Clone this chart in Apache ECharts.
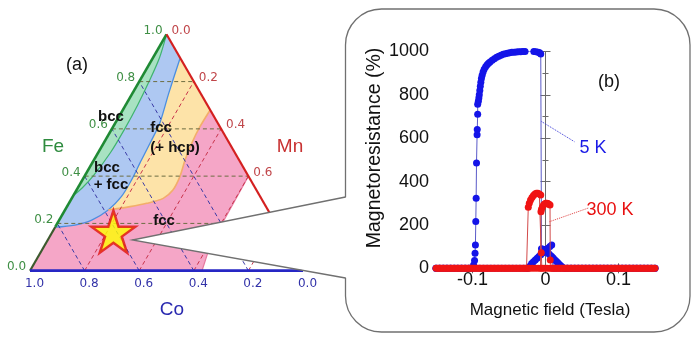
<!DOCTYPE html>
<html><head><meta charset="utf-8">
<script src="https://cdn.jsdelivr.net/npm/echarts@6/dist/echarts.min.js"></script>
<style>html,body{margin:0;padding:0;background:#fff}#c{width:700px;height:343px}</style>
</head><body><div id="c"></div>
<script>
// ===== (a) ternary diagram data: points are [Fe fraction, Mn fraction]; Co = 1 - Fe - Mn =====
const ternaryTicks = [0.2, 0.4, 0.6, 0.8];
const ternaryLabelValues = [0, 0.2, 0.4, 0.6, 0.8, 1.0];
const bccBoundary = [[1,0],[0.9,0.024],[0.8,0.036],[0.7,0.044],[0.6,0.047],[0.5,0.045],[0.4,0.031],[0.35,0.016],[0.32,0]];
const bccFccBoundary = [[0.90,0.10],[0.75,0.133],[0.625,0.163],[0.54,0.17],[0.455,0.175],[0.384,0.18],[0.313,0.178],[0.257,0.158],[0.214,0.119],[0.193,0.068],[0.184,0]];
const fccHcpBoundary = [[0.68,0.32],[0.609,0.318],[0.539,0.323],[0.468,0.334],[0.398,0.35],[0.341,0.353],[0.306,0.335],[0.285,0.285],[0.271,0.231],[0.257,0.158]];
const fccLimitBoundary = [[0.4,0.6],[0.2,0.604],[0.1,0.608],[0,0.63]];
const starComposition = [0.165, 0.223];

// ===== (b) magnetoresistance data: [field (T), MR (%)] =====
const mr5KDown = [
 [0.150,0],[0.145,0],[0.140,0],[0.135,0],[0.130,0],[0.125,0],[0.120,0],[0.115,0],[0.110,0],[0.105,0],[0.100,0],[0.095,0],[0.090,0],[0.085,0],[0.080,0],[0.075,0],[0.070,0],[0.065,0],[0.060,0],[0.055,0],[0.050,0],[0.045,0],[0.040,0],[0.035,0],[0.030,0],[0.026,0],
 [0.0225,7],[0.0205,13],[0.0185,20],[0.0165,27],[0.0145,34],[0.0125,40],[0.0105,47],[0.0085,54],[0.0065,60],[0.0045,67],[0.0025,74],[0.0005,80],[-0.0015,85],[-0.0035,88],[-0.0055,90],
 [-0.0065,988],[-0.008,994],[-0.010,997],[-0.013,999],[-0.016,1000],[-0.019,1001],[-0.022,1001],[-0.025,1001],[-0.028,1000],[-0.031,1000],[-0.034,999],[-0.037,999],[-0.040,998],[-0.043,997],[-0.046,996],[-0.049,994],[-0.052,992],[-0.055,990],[-0.058,987],[-0.061,983],[-0.064,978],[-0.067,973],[-0.070,967],[-0.073,960],[-0.076,952],[-0.078,946],[-0.080,939],[-0.082,930],[-0.084,918],[-0.0855,905],[-0.0868,890],[-0.0878,875],[-0.0886,858],[-0.0893,840],[-0.0900,820],[-0.0907,800],[-0.0913,785],[-0.0920,770],[-0.0929,757],
 [-0.0929,711],[-0.0935,640],[-0.0937,616],[-0.0945,486],[-0.0950,323],[-0.0955,216],[-0.0960,108],[-0.0965,69],[-0.0972,36],[-0.0985,15],
 [-0.101,0],[-0.105,0],[-0.110,0],[-0.115,0],[-0.120,0],[-0.125,0],[-0.130,0],[-0.135,0],[-0.140,0],[-0.145,0],[-0.150,0]
];
const mr5KUp = [
 [-0.150,0],[-0.145,0],[-0.140,0],[-0.135,0],[-0.130,0],[-0.125,0],[-0.120,0],[-0.115,0],[-0.110,0],[-0.105,0],[-0.100,0],[-0.095,0],[-0.090,0],[-0.085,0],[-0.080,0],[-0.075,0],[-0.070,0],[-0.065,0],[-0.060,0],[-0.055,0],[-0.050,0],[-0.045,0],[-0.040,0],[-0.035,0],[-0.030,0],[-0.026,0],
 [-0.024,0],[-0.0215,10],[-0.019,22],[-0.0165,30],[-0.014,38],[-0.0115,46],[-0.009,54],[-0.0065,62],[-0.004,70],[-0.0015,78],[0.001,86],[0.0035,93],[0.006,100],[0.0085,108],
 [0.011,0],[0.015,0],[0.020,0],[0.025,0],[0.030,0],[0.035,0],[0.040,0],[0.045,0],[0.050,0],[0.055,0],[0.060,0],[0.065,0],[0.070,0],[0.075,0],[0.080,0],[0.085,0],[0.090,0],[0.095,0],[0.100,0],[0.105,0],[0.110,0],[0.115,0],[0.120,0],[0.125,0],[0.130,0],[0.135,0],[0.140,0],[0.145,0],[0.150,0]
];
const mr300KUp = [
 [-0.150,0],[-0.146,0],[-0.142,0],[-0.138,0],[-0.134,0],[-0.130,0],[-0.126,0],[-0.122,0],[-0.118,0],[-0.114,0],[-0.110,0],[-0.106,0],[-0.102,0],[-0.098,0],[-0.094,0],[-0.090,0],[-0.086,0],[-0.082,0],[-0.078,0],[-0.074,0],[-0.070,0],[-0.066,0],[-0.062,0],[-0.058,0],[-0.054,0],[-0.050,0],[-0.046,0],[-0.042,0],[-0.038,0],[-0.034,0],[-0.030,0],[-0.026,0],
 [-0.0236,0],[-0.0236,282],[-0.0222,300],[-0.0205,315],[-0.0185,326],[-0.0165,336],[-0.0145,343],[-0.0125,346],[-0.0105,346],[-0.0085,343],[-0.0065,338],
 [-0.0058,72],[-0.0050,0],[-0.002,0],[0.002,0],[0.006,0],[0.010,0],[0.014,0],[0.018,0],[0.022,0],[0.026,0],[0.030,0],[0.034,0],[0.038,0],[0.042,0],[0.046,0],[0.050,0],[0.054,0],[0.058,0],[0.062,0],[0.066,0],[0.070,0],[0.074,0],[0.078,0],[0.082,0],[0.086,0],[0.090,0],[0.094,0],[0.098,0],[0.102,0],[0.106,0],[0.110,0],[0.114,0],[0.118,0],[0.122,0],[0.126,0],[0.130,0],[0.134,0],[0.138,0],[0.142,0],[0.146,0],[0.150,0]
];
const mr300KDown = [
 [0.148,0],[0.144,0],[0.140,0],[0.136,0],[0.132,0],[0.128,0],[0.124,0],[0.120,0],[0.116,0],[0.112,0],[0.108,0],[0.104,0],[0.100,0],[0.096,0],[0.092,0],[0.088,0],[0.084,0],[0.080,0],[0.076,0],[0.072,0],[0.068,0],[0.064,0],[0.060,0],[0.056,0],[0.052,0],[0.048,0],[0.044,0],[0.040,0],[0.036,0],[0.032,0],[0.028,0],[0.024,0],[0.020,0],[0.016,0],[0.012,0],[0.008,0],
 [0.0065,38],[0.0062,292],[0.0048,296],[0.0033,299],[0.0018,300],[0.0003,300],[-0.0012,297],[-0.0027,292],[-0.0042,283],[-0.0055,272],[-0.0062,261],
 [-0.0068,0],[-0.010,0],[-0.014,0],[-0.018,0],[-0.022,0],[-0.028,0],[-0.032,0],[-0.036,0],[-0.040,0],[-0.044,0],[-0.048,0],[-0.052,0],[-0.056,0],[-0.060,0],[-0.064,0],[-0.068,0],[-0.072,0],[-0.076,0],[-0.080,0],[-0.084,0],[-0.088,0],[-0.092,0],[-0.096,0],[-0.100,0],[-0.104,0],[-0.108,0],[-0.112,0],[-0.116,0],[-0.120,0],[-0.124,0],[-0.128,0],[-0.132,0],[-0.136,0],[-0.140,0],[-0.144,0],[-0.148,0]
];
const xTickValues = [-0.1, 0, 0.1];
const leader5K = [[-0.0055, 677], [0.0396, 584]];
const leader300K = [[0.0055, 215], [0.0587, 278]];

// ===== helpers =====
const H = Math.sqrt(3) / 2;
function tern(p) { return [p[1] + p[0] / 2, p[0] * H]; } // [Fe, Mn] -> cartesian
const rev = a => a.slice().reverse();

const pinkPoly = [[0,0]].concat(rev(fccLimitBoundary), [[1,0]]);
const yellowPoly = [[1,0]].concat(fccHcpBoundary, rev(bccFccBoundary.slice(0, 8)));
const bluePoly = [[1,0]].concat(bccFccBoundary);
const greenPoly = bccBoundary.slice();
const regions = [
  {pts: pinkPoly, fill: '#f5a6c7'},
  {pts: yellowPoly, fill: '#fde3a8'},
  {pts: bluePoly, fill: '#aec8f2'},
  {pts: greenPoly, fill: '#a8e2c2'}
];

const gridSegs = [];
ternaryTicks.forEach(t => {
  gridSegs.push({kind: 0, a: tern([t, 0]), b: tern([t, 1 - t])});
  gridSegs.push({kind: 1, a: tern([0, t]), b: tern([1 - t, t])});
  gridSegs.push({kind: 2, a: tern([0, 1 - t]), b: tern([1 - t, 0])});
});
const segColors = ['#6d6d42', '#c8344c', '#3b3ba6'];

const edgeLabels = [];
ternaryLabelValues.forEach(v => {
  const s = v.toFixed(1);
  edgeLabels.push({p: tern([v, 0]), dx: -13.5, dy: -3.5, text: s, color: '#3f8f45'});
  edgeLabels.push({p: tern([1 - v, v]), dx: 14.5, dy: -3.7, text: s, color: '#c0464a'});
  edgeLabels.push({p: tern([0, 1 - v]), dx: 4.5, dy: 13.5, text: s, color: '#3232a8'});
});

function lineSeries(pts, color, width, z, smooth) {
  return {type: 'line', xAxisIndex: 0, yAxisIndex: 0, data: pts.map(tern), showSymbol: false,
    smooth: smooth || false, lineStyle: {color: color, width: width}, z: z, silent: true, clip: false};
}
function leaderSeries(pts, color) {
  return {type: 'line', xAxisIndex: 1, yAxisIndex: 1, data: pts, showSymbol: false, z: 11, silent: true,
    lineStyle: {color: color, width: 1, type: 'dotted'}};
}

const chart = echarts.init(document.getElementById('c'), null, {renderer: 'canvas'});
const axisGray = '#6a6a6a';
const lab = {fontFamily: 'Liberation Sans', fontSize: 18, color: '#111'};
function txt(x, y, text, font, fill, rot) {
  return {type: 'text', z: 12, x: x, y: y, rotation: rot || 0, silent: true,
    style: {text: text, font: font, fill: fill, textAlign: 'center', textVerticalAlign: 'middle'}};
}

chart.setOption({
  animation: false,
  backgroundColor: '#fff',
  grid: [
    {left: 30, top: 34.3, width: 273, height: 236.4, show: false},
    {left: 436, top: 51.5, width: 219, height: 216.8, show: false}
  ],
  xAxis: [
    {gridIndex: 0, type: 'value', min: 0, max: 1, show: false},
    {gridIndex: 1, type: 'value', min: -0.15, max: 0.15, z: 8,
     axisLine: {lineStyle: {color: axisGray}}, splitLine: {show: false},
     axisTick: {inside: true, length: 5, lineStyle: {color: axisGray}, customValues: xTickValues},
     axisLabel: Object.assign({margin: 3, customValues: xTickValues, formatter: v => String(v)}, lab)},
    {gridIndex: 1, type: 'value', min: -0.15, max: 0.15, position: 'top', z: 8,
     axisLine: {lineStyle: {color: axisGray}}, splitLine: {show: false},
     axisTick: {inside: true, length: 5, lineStyle: {color: axisGray}, customValues: xTickValues},
     axisLabel: {show: false}}
  ],
  yAxis: [
    {gridIndex: 0, type: 'value', min: 0, max: H, show: false},
    {gridIndex: 1, type: 'value', min: 0, max: 1000, interval: 200, z: 8,
     axisLine: {show: true, lineStyle: {color: axisGray}}, splitLine: {show: false},
     axisTick: {show: true, inside: true, length: 5, lineStyle: {color: axisGray}},
     minorTick: {show: true, splitNumber: 2, length: 3, lineStyle: {color: axisGray}},
     axisLabel: Object.assign({margin: 7, formatter: v => String(v)}, lab)},
    {gridIndex: 1, type: 'value', min: 0, max: 1000, interval: 200, position: 'right', z: 8,
     axisLine: {show: true, lineStyle: {color: axisGray}}, splitLine: {show: false},
     axisTick: {show: true, inside: true, length: 5, lineStyle: {color: axisGray}},
     minorTick: {show: true, splitNumber: 2, length: 3, lineStyle: {color: axisGray}},
     axisLabel: {show: false}}
  ],
  graphic: [
    {type: 'rect', z: 6, silent: true, shape: {x: 345.5, y: 9, width: 344.5, height: 323, r: 36},
     style: {fill: '#fff', stroke: '#707070', lineWidth: 1.3}},
    {type: 'polygon', z: 6, silent: true, shape: {points: [[347.5, 197], [132.3, 240], [347.5, 278]]},
     style: {fill: '#fff', stroke: null}},
    {type: 'polyline', z: 6, silent: true, shape: {points: [[345.5, 197], [132.3, 240], [345.5, 278]]},
     style: {fill: null, stroke: '#707070', lineWidth: 1.3}},
    txt(77, 65, '(a)', '18px "Liberation Sans"', '#111'),
    txt(111, 117, 'bcc', 'bold 15px "Liberation Sans"', '#111'),
    txt(161, 128, 'fcc', 'bold 15px "Liberation Sans"', '#111'),
    txt(175, 148, '(+ hcp)', 'bold 15px "Liberation Sans"', '#111'),
    txt(107, 168, 'bcc', 'bold 15px "Liberation Sans"', '#111'),
    txt(111, 185, '+ fcc', 'bold 15px "Liberation Sans"', '#111'),
    txt(164, 221, 'fcc', 'bold 15px "Liberation Sans"', '#111'),
    txt(53, 147, 'Fe', '19px "Liberation Sans"', '#2e8b3e'),
    txt(290, 147, 'Mn', '19px "Liberation Sans"', '#c83232'),
    txt(172, 310, 'Co', '19px "Liberation Sans"', '#2a2ab0'),
    txt(609, 82, '(b)', '18px "Liberation Sans"', '#111'),
    txt(593, 148, '5 K', '18px "Liberation Sans"', '#1a1ae6'),
    txt(610, 210, '300 K', '18px "Liberation Sans"', '#e81010'),
    txt(375, 148, 'Magnetoresistance (%)', '19.5px "Liberation Sans"', '#111', Math.PI / 2),
    txt(550, 310, 'Magnetic field (Tesla)', '17px "Liberation Sans"', '#111')
  ],
  series: [
    {type: 'custom', xAxisIndex: 0, yAxisIndex: 0, z: 1, silent: true, clip: false,
     data: regions.map((r, i) => [i, 0]),
     renderItem: function (params, api) {
       const r = regions[params.dataIndex];
       return {type: 'polygon', shape: {points: r.pts.map(p => api.coord(tern(p)))}, style: {fill: r.fill}};
     }},
    lineSeries(bccBoundary, '#3fb46e', 1.2, 2, 0.3),
    lineSeries(bccFccBoundary, '#4b8fe2', 1.3, 2, 0.3),
    lineSeries(fccHcpBoundary, '#f3ae6a', 1.6, 2, 0.3),
    lineSeries(fccLimitBoundary, '#e77aa0', 1.2, 2, false),
    {type: 'custom', xAxisIndex: 0, yAxisIndex: 0, z: 3, silent: true, clip: false,
     data: gridSegs.map(s => [s.a[0], s.a[1], s.b[0], s.b[1], s.kind]),
     renderItem: function (params, api) {
       const a = api.coord([api.value(0), api.value(1)]);
       const b = api.coord([api.value(2), api.value(3)]);
       return {type: 'line', shape: {x1: a[0], y1: a[1], x2: b[0], y2: b[1]},
         style: {stroke: segColors[api.value(4)], lineWidth: 1, lineDash: [4, 3]}};
     }},
    lineSeries([[0.185, 0], [1, 0]], '#1f8a34', 2.6, 4),
    lineSeries([[0, 0], [0.185, 0]], '#3d5a2e', 2.2, 4),
    lineSeries([[1, 0], [0, 1]], '#d42020', 2.2, 4),
    lineSeries([[0, 0], [0, 1]], '#2626c4', 2.8, 4),
    {type: 'custom', xAxisIndex: 0, yAxisIndex: 0, z: 4, silent: true, clip: false,
     data: edgeLabels.map(l => [l.p[0], l.p[1]]),
     renderItem: function (params, api) {
       const l = edgeLabels[params.dataIndex];
       const c = api.coord([api.value(0), api.value(1)]);
       return {type: 'text', x: c[0] + l.dx, y: c[1] + l.dy,
         style: {text: l.text, fill: l.color, font: '12px "DejaVu Sans"', textAlign: 'center', textVerticalAlign: 'middle'}};
     }},
    {type: 'scatter', xAxisIndex: 0, yAxisIndex: 0, z: 12, silent: true,
     data: [tern(starComposition)],
     symbol: 'path://M0,-1 L0.2245,-0.309 L0.951,-0.309 L0.363,0.118 L0.588,0.809 L0,0.382 L-0.588,0.809 L-0.363,0.118 L-0.951,-0.309 L-0.2245,-0.309 Z',
     symbolSize: [44, 42], itemStyle: {color: '#ffff00', borderColor: '#e01010', borderWidth: 2.5}},
    {type: 'line', name: '5 K', xAxisIndex: 1, yAxisIndex: 1, z: 9, data: mr5KDown,
     symbol: 'circle', symbolSize: 7, showAllSymbol: true,
     itemStyle: {color: '#1414e8'}, lineStyle: {color: '#5a5ac8', width: 1}},
    {type: 'line', name: '5 K up', xAxisIndex: 1, yAxisIndex: 1, z: 9, data: mr5KUp,
     symbol: 'circle', symbolSize: 7, showAllSymbol: true,
     itemStyle: {color: '#1414e8'}, lineStyle: {color: '#5a5ac8', width: 1}},
    {type: 'line', name: '300 K', xAxisIndex: 1, yAxisIndex: 1, z: 10, data: mr300KUp,
     symbol: 'circle', symbolSize: 7, showAllSymbol: true,
     itemStyle: {color: '#f01414'}, lineStyle: {color: '#d24a4a', width: 1}},
    {type: 'line', name: '300 K down', xAxisIndex: 1, yAxisIndex: 1, z: 10, data: mr300KDown,
     symbol: 'circle', symbolSize: 7, showAllSymbol: true,
     itemStyle: {color: '#f01414'}, lineStyle: {color: '#d24a4a', width: 1}},
    leaderSeries(leader5K, '#3a3ad8'),
    leaderSeries(leader300K, '#e04040')
  ]
});
</script>
</body></html>
